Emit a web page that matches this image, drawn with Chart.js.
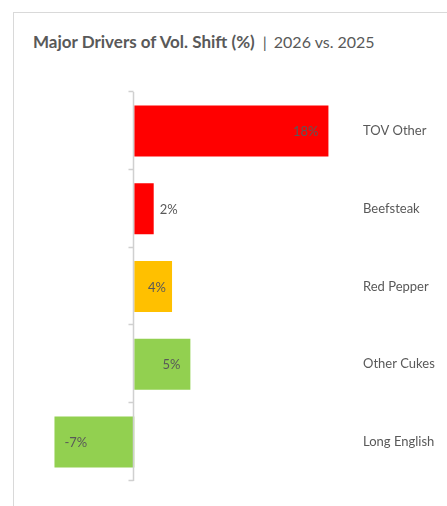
<!DOCTYPE html>
<html>
<head>
<meta charset="utf-8">
<script src="https://cdn.jsdelivr.net/npm/chart.js@4"></script>
<style>
  html, body { margin:0; padding:0; background:#fff; }
  body { width:447px; height:506px; position:relative; overflow:hidden; font-family:Lato, sans-serif; }
  .card { position:absolute; left:13px; top:12px; right:-2px; bottom:-2px; border-left:1px solid #d9d9d9; border-top:1px solid #d9d9d9; }
  .title { position:absolute; left:33px; top:32px; font-size:16px; line-height:20px; color:#595959; white-space:nowrap; }
  .title b { font-weight:700; font-size:17px; }
  .title .sep { margin:0 7px 0 8px; }
  #chart { position:absolute; left:0; top:0; }
</style>
</head>
<body>
<div class="card"></div>
<div class="title"><b>Major Drivers of Vol. Shift (%)</b><span class="sep">|</span>2026 vs. 2025</div>
<canvas id="chart" width="447" height="506"></canvas>
<script>
const categories = ['TOV Other', 'Beefsteak', 'Red Pepper', 'Other Cukes', 'Long English'];
const shiftPct = [18, 1.8, 3.5, 5.2, -7.4];
const barColors = ['#FF0000', '#FF0000', '#FFC000', '#92D050', '#92D050'];

const labelFont = '13px Lato, sans-serif';

// zero line with small ticks at the category boundaries
const zeroAxis = {
  id: 'zeroAxis',
  afterDatasetsDraw(chart) {
    const c = chart.ctx, x = chart.scales.x, y = chart.scales.y;
    const x0 = Math.round(x.getPixelForValue(0)) - 0.5;
    c.save();
    c.strokeStyle = '#d0d0d0';
    c.lineWidth = 1.5;
    c.beginPath();
    c.moveTo(x0, y.top);
    c.lineTo(x0, y.bottom);
    const step = (y.bottom - y.top) / categories.length;
    for (let i = 0; i <= categories.length; i++) {
      const yy = Math.round(y.top + i * step) - 0.5;
      c.moveTo(x0 - 5, yy);
      c.lineTo(x0, yy);
    }
    c.stroke();
    c.restore();
  }
};

const valueLabels = {
  id: 'valueLabels',
  afterDatasetsDraw(chart) {
    const c = chart.ctx;
    const meta = chart.getDatasetMeta(0);
    c.save();
    c.font = labelFont;
    c.fillStyle = '#595959';
    c.textBaseline = 'middle';
    meta.data.forEach((bar, i) => {
      const v = shiftPct[i];
      const txt = Math.round(v) + '%';
      const tw = c.measureText(txt).width;
      const len = Math.abs(bar.x - bar.base);
      const dir = v >= 0 ? 1 : -1;
      let tx, align;
      if (len >= tw + 20) {
        tx = bar.x - dir * 10; align = dir > 0 ? 'right' : 'left';
      } else if (len >= tw + 8) {
        tx = bar.x - dir * 6; align = dir > 0 ? 'right' : 'left';
      } else {
        tx = bar.x + dir * 6; align = dir > 0 ? 'left' : 'right';
      }
      c.textAlign = align;
      c.fillText(txt, tx, bar.y + 1);
    });
    c.restore();
  }
};

new Chart(document.getElementById('chart'), {
  type: 'bar',
  data: {
    labels: categories,
    datasets: [{
      data: shiftPct,
      backgroundColor: barColors,
      borderWidth: 0,
      categoryPercentage: 1,
      barPercentage: 0.655
    }]
  },
  options: {
    indexAxis: 'y',
    responsive: false,
    animation: false,
    layout: { padding: { left: 48, top: 92, bottom: 25, right: 0 } },
    plugins: { legend: { display: false }, tooltip: { enabled: false } },
    scales: {
      x: { min: -8, max: 20, display: false },
      y: {
        position: 'right',
        grid: { display: false, drawTicks: false },
        border: { display: false },
        ticks: { padding: 13, color: '#595959', font: { family: 'Lato', size: 13 }, crossAlign: 'near' },
        afterFit(s) { s.width = 97; }
      }
    }
  },
  plugins: [zeroAxis, valueLabels]
});
</script>
</body>
</html>
